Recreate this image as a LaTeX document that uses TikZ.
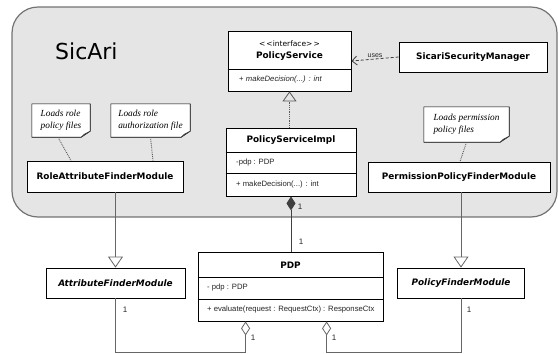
\documentclass[tikz,border=0pt]{standalone}
\usepackage{fontspec}
\setmainfont{DejaVu Sans}
\newfontfamily\memberfont{Liberation Sans}
\newfontfamily\notefont{Liberation Serif}
\usetikzlibrary{arrows.meta,calc}

\begin{document}
\begin{tikzpicture}[x=1pt,y=-1pt,
  region/.style={draw=black!55, fill=black!10, line width=1.2pt, rounded corners=26pt, inner sep=0pt},
  classbox/.style={draw=black, fill=white, line width=0.8pt, inner sep=0pt},
  classname/.style={font=\fontsize{8.9}{10}\selectfont\bfseries},
  abstractname/.style={font=\fontsize{8.9}{10}\selectfont\bfseries\itshape},
  divider/.style={draw=black, line width=0.8pt},
  membertext/.style={font=\memberfont\fontsize{7.7}{9}\selectfont, text=black!85, anchor=west, inner sep=0pt},
  mult/.style={font=\memberfont\fontsize{8}{9}\selectfont, text=black!85, inner sep=0pt},
  notebox/.style={fill=white, inner sep=0pt, font=\notefont\itshape\fontsize{9.3}{11.8}\selectfont, align=left},
  notelink/.style={densely dotted, draw=black!65, line width=0.9pt},
  conn/.style={draw=black!60, line width=0.9pt},
  usesdep/.style={draw=black!75, line width=0.8pt, dash pattern=on 3pt off 2pt},
  realize/.style={draw=black!65, line width=0.8pt, densely dotted},
  genhead/.style={-{Triangle[open,length=11pt,width=15pt,line width=0.8pt]}},
]
\useasboundingbox (0,0) rectangle (558,354);

% SicAri package region
\node[region, minimum width=545pt, minimum height=210pt] (sicari) at (284.5,112) {};
\node[font=\fontsize{22}{24}\selectfont, anchor=west, inner sep=0pt] (sicarilabel) at (55,51) {SicAri};

% PolicyService interface
\node[classbox, minimum width=123pt, minimum height=60pt] (ps) at (289.5,61) {};
\draw[divider] (ps.west |- 0,69) -- (ps.east |- 0,69);
\node[font=\fontsize{7.5}{9}\selectfont, inner sep=0pt] (psstereo) at (289.5,44) {<\kern1pt<interface>\kern1pt>};
\node[classname, inner sep=0pt] (pstitle) at (289.5,56) {PolicyService};
\node[membertext] (psop) at (239,80) {+ \itshape makeDecision(...) : int};

% SicariSecurityManager
\node[classbox, classname, minimum width=148pt, minimum height=30pt] (ssm) at (473,57) {SicariSecurityManager};
\draw[usesdep, -{Straight Barb[length=5pt,width=9pt]}] (ssm.west) -- (ps.east)
  node[pos=0.5, above, mult, font=\memberfont\fontsize{7}{8}\selectfont, yshift=1pt] (useslabel) {uses};

% PolicyServiceImpl
\node[classbox, minimum width=130pt, minimum height=68pt] (psi) at (291,162) {};
\draw[divider] (psi.west |- 0,152) -- (psi.east |- 0,152);
\draw[divider] (psi.west |- 0,173) -- (psi.east |- 0,173);
\node[classname, inner sep=0pt] (psititle) at (291,140) {PolicyServiceImpl};
\node[membertext] (psiattr) at (236,163) {-pdp : PDP};
\node[membertext] (psiop) at (236,185) {+ makeDecision(...) : int};
\draw[realize, -{Triangle[open,length=10pt,width=14pt,line width=0.8pt]}] (psi.north -| ps.south) -- (ps.south);

% finder modules inside SicAri
\node[classbox, classname, minimum width=156pt, minimum height=31pt] (role) at (105,176.5) {RoleAttributeFinderModule};
\node[classbox, classname, minimum width=182pt, minimum height=30pt] (perm) at (459,177) {PermissionPolicyFinderModule};

% notes
\node[notebox, minimum width=58pt, minimum height=33pt] (n1) at (61,120.5) {Loads role\\policy files};
\node[notebox, minimum width=79pt, minimum height=33pt] (n2) at (150.5,120.5) {Loads role\\authorization file};
\node[notebox, minimum width=85pt, minimum height=35pt] (n3) at (466.5,124.5) {Loads permission\\policy files};
\foreach \n in {n1,n2,n3} {
  \fill[black!10] ([yshift=6pt]\n.south east) -- (\n.south east) -- ([xshift=-9pt]\n.south east) -- cycle;
  \draw[black, line width=0.6pt] (\n.north west) -- (\n.north east) -- ([yshift=6pt]\n.south east)
    -- ([xshift=-9pt]\n.south east) -- (\n.south west) -- cycle;
  \filldraw[black!75, line width=0.4pt] ([yshift=6pt]\n.south east) -- ([xshift=-9pt]\n.south east)
    -- ([xshift=-6pt,yshift=3pt]\n.south east) -- cycle;
}
\draw[notelink] ([xshift=-3pt]n1.south) -- ([xshift=-34pt]role.north);
\draw[notelink] (n2.south) -- ([xshift=48pt]role.north);
\draw[notelink] (n3.south) -- ([xshift=1pt]perm.north);

% outside classes
\node[classbox, abstractname, minimum width=139pt, minimum height=30pt] (attr) at (115.5,283) {AttributeFinderModule};
\node[classbox, abstractname, minimum width=127pt, minimum height=30pt] (pfm) at (461,283) {PolicyFinderModule};

\node[classbox, minimum width=185pt, minimum height=69pt] (pdp) at (290.5,286.5) {};
\draw[divider] (pdp.west |- 0,277) -- (pdp.east |- 0,277);
\draw[divider] (pdp.west |- 0,299) -- (pdp.east |- 0,299);
\node[classname, inner sep=0pt] (pdptitle) at (290.5,265) {PDP};
\node[membertext] (pdpattr) at (207,288) {- pdp : PDP};
\node[membertext] (pdpop) at (207,310) {+ evaluate(request : RequestCtx) : ResponseCtx};

% generalizations
\draw[conn, genhead] (attr.north |- role.south) -- (attr.north);
\draw[conn, genhead] (pfm.north |- perm.south) -- (pfm.north);

% composition PolicyServiceImpl -> PDP
\draw[conn, draw=black!75, {Diamond[length=14pt,width=9pt]}-] (psi.south) -- (psi.south |- pdp.north);
\node[mult] (m1) at (300,207) {1};
\node[mult] (m2) at (301,242) {1};

% aggregations PDP -> finder modules
\draw[conn, {Diamond[open,length=14pt,width=9pt,line width=0.8pt]}-] ([xshift=48pt]pdp.south west) -- ++(0,31) -| (attr.south);
\draw[conn, {Diamond[open,length=14pt,width=9pt,line width=0.8pt]}-] ([xshift=129pt]pdp.south west) -- ++(0,31) -| (pfm.south);
\node[mult] (m3) at (253,338) {1};
\node[mult] (m4) at (334,338) {1};
\node[mult] (m5) at (125,310) {1};
\node[mult] (m6) at (469,310) {1};
\end{tikzpicture}
\end{document}
